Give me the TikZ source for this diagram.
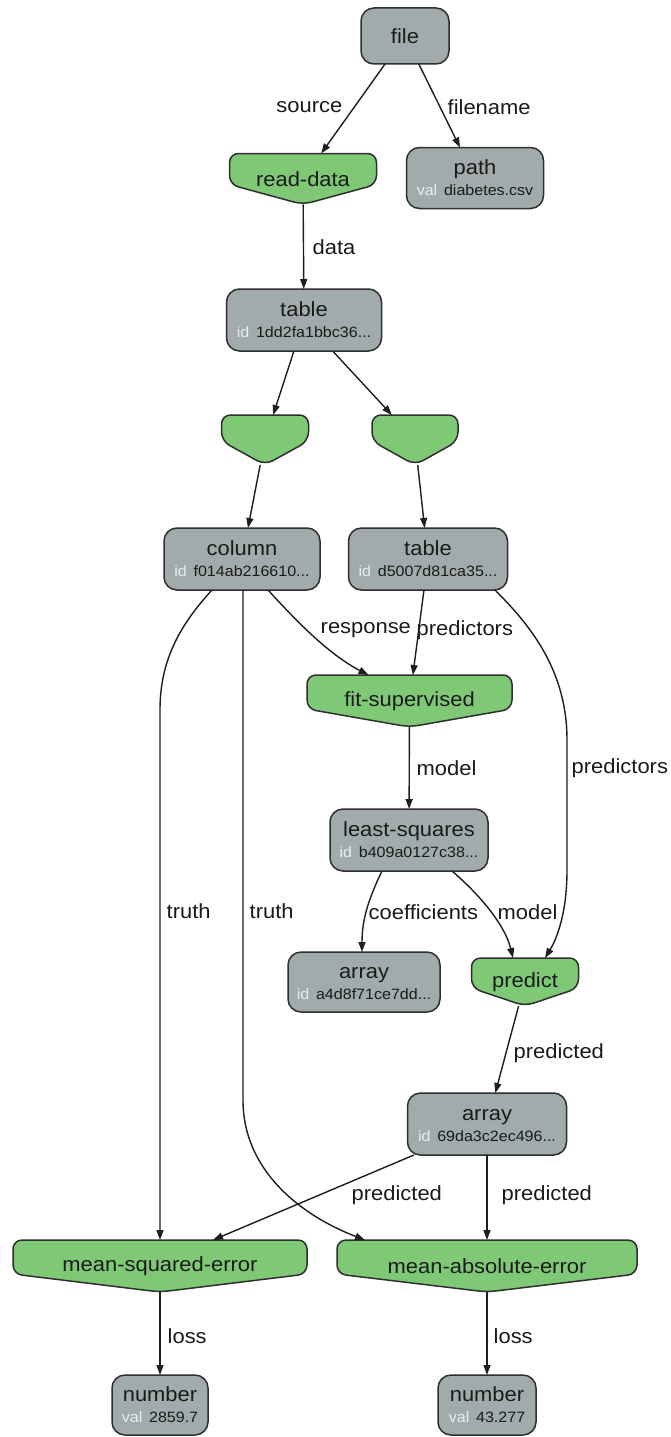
\documentclass[tikz,border=0pt]{standalone}
\usepackage{fontspec}
\setmainfont{Liberation Sans}[FakeStretch=1.07]
\usetikzlibrary{arrows.meta,backgrounds,calc}
\definecolor{gfill}{HTML}{A2ABAB}
\definecolor{grfill}{HTML}{7FC976}
\definecolor{bord}{HTML}{2E2E2E}
\definecolor{linec}{HTML}{1E1E1E}
\definecolor{txt}{HTML}{1A1A1A}
\definecolor{idc}{HTML}{E8EEEE}
\newcommand\titlefnt{\fontsize{20.5}{24}\selectfont}
\newcommand\subfnt{\fontsize{15}{18}\selectfont}
\newcommand\twol[3]{\vbox{\baselineskip=21pt\lineskiplimit=-30pt\halign{\hfil##\hfil\cr\titlefnt\vrule height 15pt width 0pt #1\cr\subfnt\textcolor{idc}{#2}\hspace{0.45em}#3\cr}}}
\newcommand\gshape[2]{\path[draw=bord, fill=grfill, line width=1.5pt, rounded corners=9pt] (#1.north west) -- (#1.north east) -- ([yshift=#2pt]#1.south east) -- (#1.south) -- ([yshift=#2pt]#1.south west) -- cycle;}
\begin{document}
\begin{tikzpicture}[x=1pt,y=-1pt,
  gbox/.style={draw=bord, fill=gfill, rounded corners=13pt, line width=1.5pt, inner sep=0pt, outer sep=0pt, text=txt},
  gnode/.style={inner sep=0pt, outer sep=0pt, text=txt, font=\titlefnt},
  conn/.style={line width=1.4pt, draw=linec, -{Triangle[length=10pt,width=7pt]}},
  elab/.style={font=\titlefnt, text=txt, inner sep=0pt}]
\useasboundingbox (0,0) rectangle (671,1437);
\begin{scope}[on background layer]
\fill[white] (0,0) rectangle (671,1437);
\end{scope}
% gray nodes
\node[gbox, minimum width=88pt, minimum height=56pt] (file) at (405,36) {\titlefnt\vrule height 15pt width 0pt file};
\node[gbox, minimum width=137pt, minimum height=61pt] (path) at (475,178) {\twol{path}{val}{diabetes.csv}};
\node[gbox, minimum width=155pt, minimum height=62pt] (table1) at (304,320) {\twol{table}{id}{1dd2fa1bbc36...}};
\node[gbox, minimum width=156pt, minimum height=62pt] (column) at (242,559) {\twol{column}{id}{f014ab216610...}};
\node[gbox, minimum width=159pt, minimum height=62pt] (table2) at (428,559) {\twol{table}{id}{d5007d81ca35...}};
\node[gbox, minimum width=158pt, minimum height=62pt] (least) at (409,840) {\twol{least-squares}{id}{b409a0127c38...}};
\node[gbox, minimum width=152pt, minimum height=60pt] (array1) at (364,982) {\twol{array}{id}{a4d8f71ce7dd...}};
\node[gbox, minimum width=159pt, minimum height=62pt] (array2) at (487,1124) {\twol{array}{id}{69da3c2ec496...}};
\node[gbox, minimum width=96pt, minimum height=60pt] (num1) at (160,1405) {\twol{number}{val}{2859.7}};
\node[gbox, minimum width=98pt, minimum height=60pt] (num2) at (487,1405) {\twol{number}{val}{43.277}};
% green nodes
\node[gnode, minimum width=147pt, minimum height=51pt] (readdata) at (303,179) {read-data};
\node[gnode, minimum width=87pt, minimum height=50pt] (g1) at (265,440) {};
\node[gnode, minimum width=86pt, minimum height=50pt] (g2) at (415,440) {};
\node[gnode, minimum width=205pt, minimum height=52pt] (fit) at (409.5,701) {fit-supervised};
\node[gnode, minimum width=107pt, minimum height=48pt] (predict) at (525,982) {predict};
\node[gnode, minimum width=294pt, minimum height=52pt] (mse) at (160,1266) {mean-squared-error};
\node[gnode, minimum width=300pt, minimum height=52pt] (mae) at (487,1266) {mean-absolute-error};
\begin{scope}[on background layer]
\gshape{readdata}{20}
\gshape{g1}{24}
\gshape{g2}{24}
\gshape{fit}{18}
\gshape{predict}{18}
\gshape{mse}{18}
\gshape{mae}{18}
\end{scope}
% connectors
\draw[conn] (file) -- (readdata) node[elab,anchor=east] at (343,107) {source};
\draw[conn] (file) -- (path) node[elab,anchor=west] at (447,107) {filename};
\draw[conn] (readdata) -- (table1) node[elab,anchor=west] at (312,247) {data};
\draw[conn] (table1) -- (g1);
\draw[conn] (table1) -- (g2);
\draw[conn] (g1) -- (column);
\draw[conn] (g2) -- (table2);
\draw[conn] ($(column.south)+(26,0)$) .. controls (300,625) and (330,655) .. ($(fit.north)+(-41,0)$) node[elab,anchor=west] at (320,630) {response};
\draw[conn] (table2) -- (fit) node[elab,anchor=west] at (416,630) {predictors};
\draw[conn] (fit) -- (least) node[elab,anchor=west] at (416,768) {model};
\draw[conn] ($(table2.south)+(67,0)$) .. controls (530,625) and (567,670) .. (567,740) -- (567,870) .. controls (567,915) and (556,940) .. ($(predict.north)+(20,0)$) node[elab,anchor=west] at (571,768) {predictors};
\draw[conn] ($(column.south)+(-30,0)$) .. controls (180,625) and (160,660) .. (160,710) -- (mse.north) node[elab,anchor=west] at (166,911) {truth};
\draw[conn] ($(column.south)+(1,0)$) -- (243,1100) .. controls (243,1170) and (300,1215) .. ($(mae.north)+(-122,0)$) node[elab,anchor=west] at (249,911) {truth};
\draw[conn] ($(least.south)+(-27,0)$) .. controls (368,900) and (362,920) .. ($(array1.north)+(-2,0)$) node[elab,anchor=west] at (368,912) {coefficients};
\draw[conn] ($(least.south)+(43,0)$) .. controls (480,895) and (505,925) .. ($(predict.north)+(-12,0)$) node[elab,anchor=west] at (497,912) {model};
\draw[conn] (predict) -- (array2) node[elab,anchor=west] at (513,1053) {predicted};
\draw[conn] (array2) -- ($(mse.north)+(53,0)$) node[elab,anchor=west] at (351,1195) {predicted};
\draw[conn] (array2) -- (mae) node[elab,anchor=west] at (501,1195) {predicted};
\draw[conn] (mse) -- (num1) node[elab,anchor=west] at (167,1336) {loss};
\draw[conn] (mae) -- (num2) node[elab,anchor=west] at (493,1336) {loss};
\end{tikzpicture}
\end{document}
